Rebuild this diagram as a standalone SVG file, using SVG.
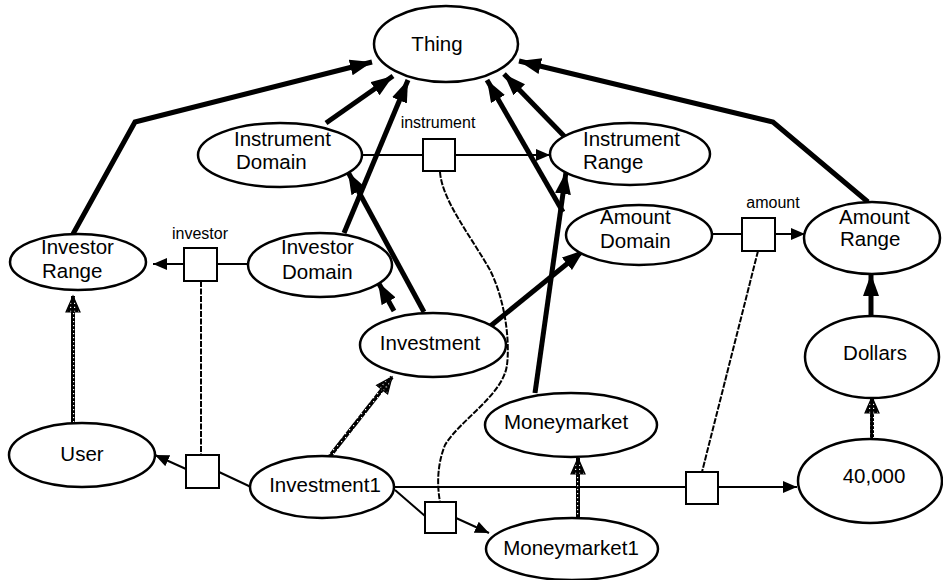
<svg xmlns="http://www.w3.org/2000/svg" width="943" height="580" viewBox="0 0 943 580">
<style>
.node ellipse{fill:#fff;stroke:#000;stroke-width:2.5}
.node text{font-family:"Liberation Sans",Arial,sans-serif;font-size:20.5px;fill:#000}
.c{text-anchor:middle}
.lbl{font-family:"Liberation Sans",Arial,sans-serif;font-size:16px;fill:#000;text-anchor:middle}
.box{fill:#fff;stroke:#000;stroke-width:2}
.thick{fill:none;stroke:#000;stroke-width:5;marker-end:url(#big)}
.thin{fill:none;stroke:#000;stroke-width:2}
.thinA{fill:none;stroke:#000;stroke-width:2;marker-end:url(#small)}
.dash{fill:none;stroke:#000;stroke-width:2;stroke-dasharray:6 1.5}
.hatch{fill:none;stroke:url(#hp);stroke-width:4;marker-end:url(#hm)}
</style>
<defs>
<pattern id="hp" width="4" height="4" patternUnits="userSpaceOnUse"><rect width="4" height="4" fill="#000"/><rect x="1" y="1" width="1.2" height="1.2" fill="#fff"/></pattern>
<marker id="big" markerUnits="userSpaceOnUse" markerWidth="24" markerHeight="18" refX="22" refY="8" orient="auto"><path d="M0,0 L22,8 L0,16 z" fill="#000"/></marker>
<marker id="small" markerUnits="userSpaceOnUse" markerWidth="16" markerHeight="14" refX="14" refY="6" orient="auto"><path d="M0,0 L14,6 L0,12 z" fill="#000"/></marker>
<marker id="hm" markerUnits="userSpaceOnUse" markerWidth="20" markerHeight="18" refX="17" refY="8" orient="auto"><path d="M1,1 L17,8 L1,15 z" fill="url(#hp)" stroke="#000" stroke-width="1.2"/></marker>
</defs>
<rect width="943" height="580" fill="#fff"/>
<g id="connectors">
<polyline class="thick" points="73,234 135,122 372,62"/>
<polyline class="thick" points="326,123 393,76"/>
<polyline class="thick" points="344,233 408,80"/>
<polyline class="thick" points="424,312 348,172"/>
<polyline class="thick" points="394,311 378,282"/>
<polyline class="thick" points="535,393 566,172"/>
<polyline class="thick" points="563,212 487,80"/>
<polyline class="thick" points="565,137 504,74"/>
<polyline class="thick" points="868,202 773,122 519,61"/>
<polyline class="thick" points="488,328 584,250"/>
<polyline class="thick" points="871,315 871,274"/>
<line class="thin" x1="362" y1="155" x2="423" y2="155"/>
<line class="thinA" x1="455" y1="155" x2="550" y2="155"/>
<line class="thin" x1="248" y1="264" x2="218" y2="264"/>
<line class="thinA" x1="184" y1="264" x2="153" y2="264"/>
<line class="thin" x1="712" y1="234" x2="742" y2="234"/>
<line class="thinA" x1="775" y1="234" x2="805" y2="234"/>
<line class="thin" x1="251" y1="487" x2="219" y2="472"/>
<line class="thinA" x1="186" y1="469" x2="155" y2="455"/>
<line class="thin" x1="394" y1="487" x2="686" y2="487"/>
<line class="thinA" x1="718" y1="487" x2="797" y2="487"/>
<line class="thin" x1="395" y1="490" x2="425" y2="516"/>
<line class="thinA" x1="456" y1="518" x2="489" y2="533"/>
<path class="dash" d="M201,281 L201,455"/>
<path class="dash" d="M440,172 C442,200 470,235 490,270 C505,300 510,340 507,365 C503,395 460,420 445,445 C437,465 437,485 440,502"/>
<path class="dash" d="M758,251 L702,472"/>
<path class="hatch" d="M73,423 L73,296"/>
<path class="hatch" d="M330,456 L392,377"/>
<path class="hatch" d="M578,518 L578,458"/>
<path class="hatch" d="M872,439 L872,397"/>
</g>
<g id="thing" class="node"><ellipse cx="446" cy="44" rx="72" ry="38"/><text class="c" x="437" y="51">Thing</text></g>
<g id="instrument-domain" class="node"><ellipse cx="280" cy="155" rx="82" ry="32"/><text x="234" y="146">Instrument</text><text x="236" y="169">Domain</text></g>
<g id="instrument-range" class="node"><ellipse cx="630" cy="154" rx="80" ry="31"/><text x="583" y="146">Instrument</text><text x="583" y="169">Range</text></g>
<g id="investor-range" class="node"><ellipse cx="78" cy="262" rx="68" ry="28"/><text x="41" y="254">Investor</text><text x="42" y="278">Range</text></g>
<g id="investor-domain" class="node"><ellipse cx="320" cy="265" rx="72" ry="32"/><text x="281" y="254">Investor</text><text x="282" y="279">Domain</text></g>
<g id="amount-domain" class="node"><ellipse cx="639" cy="235" rx="73" ry="30"/><text x="600" y="224">Amount</text><text x="600" y="248">Domain</text></g>
<g id="amount-range" class="node"><ellipse cx="872" cy="238" rx="68" ry="36"/><text x="839" y="224">Amount</text><text x="840" y="246">Range</text></g>
<g id="investment" class="node"><ellipse cx="433" cy="345" rx="73" ry="32"/><text class="c" x="430" y="350">Investment</text></g>
<g id="dollars" class="node"><ellipse cx="872" cy="357" rx="67" ry="41"/><text class="c" x="875" y="360">Dollars</text></g>
<g id="forty-thousand" class="node"><ellipse cx="870" cy="481" rx="72" ry="42"/><text class="c" x="874" y="483">40,000</text></g>
<g id="moneymarket" class="node"><ellipse cx="571" cy="425" rx="86" ry="32"/><text class="c" x="566" y="429">Moneymarket</text></g>
<g id="moneymarket1" class="node"><ellipse cx="572" cy="549" rx="86" ry="31"/><text class="c" x="571" y="555">Moneymarket1</text></g>
<g id="investment1" class="node"><ellipse cx="322" cy="487" rx="72" ry="31"/><text class="c" x="325" y="492">Investment1</text></g>
<g id="user" class="node"><ellipse cx="82" cy="455" rx="73" ry="32"/><text class="c" x="82" y="461">User</text></g>
<g id="box-instrument"><rect class="box" x="423" y="139" width="32" height="32"/><text class="lbl" x="438" y="128">instrument</text></g>
<g id="box-investor"><rect class="box" x="184" y="248" width="33" height="33"/><text class="lbl" x="200" y="239">investor</text></g>
<g id="box-amount"><rect class="box" x="742" y="218" width="33" height="33"/><text class="lbl" x="773" y="208">amount</text></g>
<g id="box-investor1"><rect class="box" x="186" y="455" width="33" height="33"/></g>
<g id="box-instrument1"><rect class="box" x="425" y="502" width="31" height="31"/></g>
<g id="box-amount1"><rect class="box" x="686" y="472" width="32" height="32"/></g>
</svg>
